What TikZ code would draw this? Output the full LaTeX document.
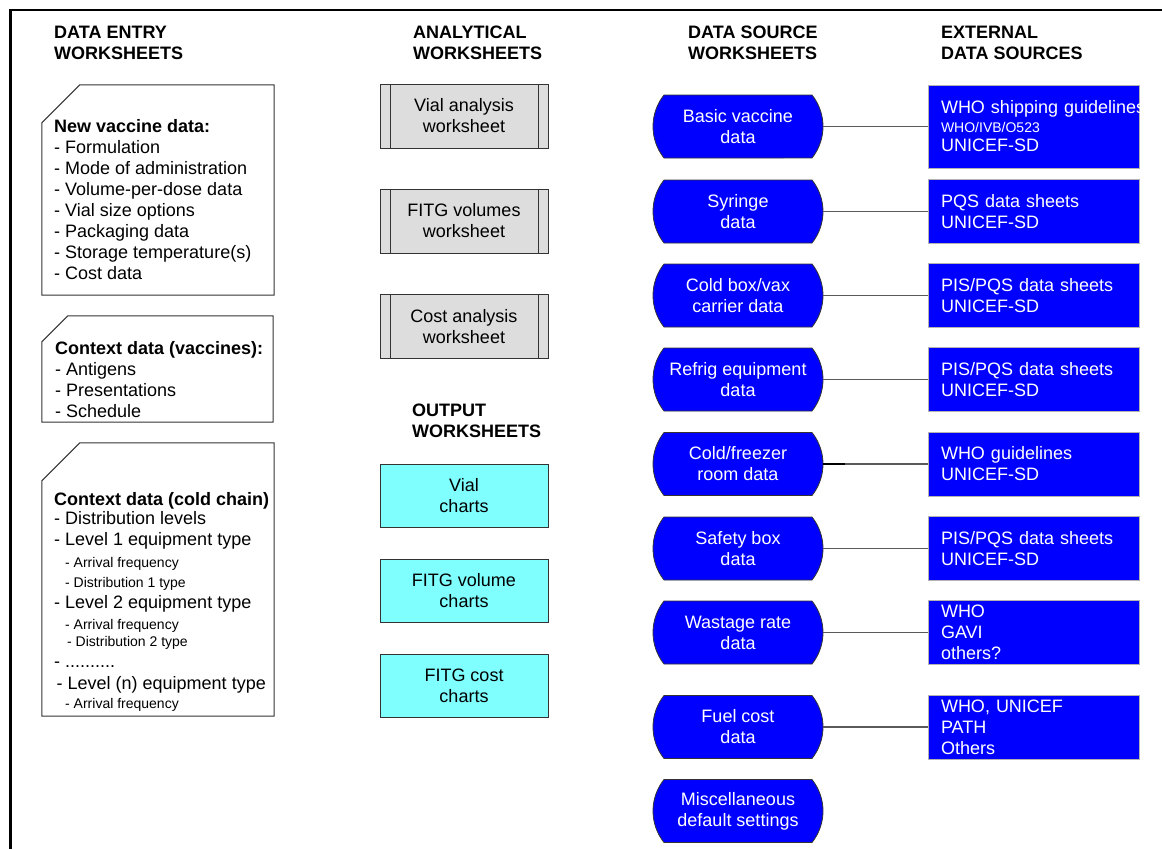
\documentclass[tikz,border=0pt]{standalone}
\usepackage{fontspec}
\setmainfont{Liberation Sans}
\usetikzlibrary{calc}

\definecolor{srcblue}{RGB}{0,0,255}
\definecolor{outcyan}{RGB}{128,255,255}
\definecolor{procgray}{RGB}{221,221,221}
\definecolor{edge}{RGB}{51,51,51}
\definecolor{linkgray}{RGB}{90,90,90}
\newcommand{\bigtxt}{\fontsize{18}{21}\selectfont}
\newcommand{\smalltxt}{\fontsize{14}{21}\selectfont}
\pgfdeclarelayer{background}
\pgfsetlayers{background,main}

\begin{document}
\begin{tikzpicture}[x=1pt,y=-1pt,font=\bigtxt,
  heading/.style={anchor=north west,inner sep=0,font=\bigtxt\bfseries,align=left},
  cardbox/.style={minimum width=232,minimum height=210,inner sep=0},
  cardline/.style={draw=edge,line width=1},
  cardtext/.style={anchor=north west,inner sep=0,align=left},
  proc/.style={draw=edge,line width=1,fill=procgray,minimum width=168,minimum height=64,
    inner sep=0,align=center,
    path picture={\draw[edge,line width=1]
      ([xshift=10]path picture bounding box.north west) -- ([xshift=10]path picture bounding box.south west)
      ([xshift=-10]path picture bounding box.north east) -- ([xshift=-10]path picture bounding box.south east);}},
  outbox/.style={draw=edge,line width=1,fill=outcyan,minimum width=168,minimum height=63,
    inner sep=0,align=center},
  store/.style={minimum width=170,minimum height=64,inner sep=0,align=center,text=white},
  storeshape/.style={fill=srcblue,draw=edge,line width=0.8},
  ext/.style={draw=gray!60,line width=0.8,fill=srcblue,text=white,minimum width=211,
    minimum height=64,inner xsep=13,inner ysep=0,text width=185,align=left},
  link/.style={draw=linkgray,line width=1.3}
]
\useasboundingbox (0,0) rectangle (1162,849);
\begin{pgfonlayer}{background}
  \fill[white] (0,0) rectangle (1162,849);
\end{pgfonlayer}

% page frame (left and top edges)
\draw[line width=2.5,line join=miter] (10.5,849) -- (10.5,10) -- (1162,10);

% column headings
\node[heading] (h1) at (54,26)  {DATA ENTRY\\WORKSHEETS};
\node[heading] (h2) at (413,26) {ANALYTICAL\\WORKSHEETS};
\node[heading] (h3) at (688,26) {DATA SOURCE\\WORKSHEETS};
\node[heading] (h4) at (941,26) {EXTERNAL\\DATA SOURCES};
\node[heading] (h5) at (412,404) {OUTPUT\\WORKSHEETS};

% data entry cards
\node[cardbox] (c1) at (158,190) {};
\draw[cardline] ([yshift=-38]c1.north west) -- ([xshift=38]c1.north west) -- (c1.north east)
  -- (c1.south east) -- (c1.south west) -- cycle;
\node[cardtext] (t1) at (54,119) {\textbf{New vaccine data:}\\
  - Formulation\\
  - Mode of administration\\
  - Volume-per-dose data\\
  - Vial size options\\
  - Packaging data\\
  - Storage temperature(s)\\
  - Cost data};

\node[cardbox,minimum width=231,minimum height=106] (c2) at (157.5,369) {};
\draw[cardline] ([yshift=-26]c2.north west) -- ([xshift=26]c2.north west) -- (c2.north east)
  -- (c2.south east) -- (c2.south west) -- cycle;
\node[cardtext] (t2) at (55,341) {\textbf{Context data (vaccines):}\\
  - Antigens\\
  - Presentations\\
  - Schedule};

\node[cardbox,minimum height=273] (c3) at (158,579.5) {};
\draw[cardline] ([yshift=-38]c3.north west) -- ([xshift=38]c3.north west) -- (c3.north east)
  -- (c3.south east) -- (c3.south west) -- cycle;
\node[cardtext] (t3) at (54,492) {\textbf{Context data (cold chain)}\\[-2pt]
  - Distribution levels\\
  - Level 1 equipment type\\[1pt]
  \hspace*{11pt}{\smalltxt - Arrival frequency}\\[-1pt]
  \hspace*{11pt}{\smalltxt - Distribution 1 type}\\
  - Level 2 equipment type\\
  \hspace*{11pt}{\smalltxt - Arrival frequency}\\[-4pt]
  \hspace*{13pt}{\smalltxt - Distribution 2 type}\\
  - ..........\\[1pt]
  \hspace*{2.5pt}- Level (n) equipment type\\[-2pt]
  \hspace*{11pt}{\smalltxt - Arrival frequency}};

% analytical worksheets
\node[proc] (an1) at (464,116)   {Vial analysis\\worksheet};
\node[proc] (an2) at (464,221)   {FITG volumes\\worksheet};
\node[proc] (an3) at (464,326.5) {Cost analysis\\worksheet};

% output worksheets
\node[outbox] (out1) at (464,495.5) {Vial\\charts};
\node[outbox] (out2) at (464,590.5) {FITG volume\\charts};
\node[outbox] (out3) at (464,685.5) {FITG cost\\charts};

% data source worksheets
\node[store] (ds1) at (738,126.5) {Basic vaccine\\data};
\node[store] (ds2) at (738,211.5) {Syringe\\data};
\node[store] (ds3) at (738,295.5) {Cold box/vax\\carrier data};
\node[store] (ds4) at (738,379.5) {Refrig equipment\\data};
\node[store] (ds5) at (738,464)   {Cold/freezer\\room data};
\node[store] (ds6) at (738,548.5) {Safety box\\data};
\node[store] (ds7) at (738,632.5) {Wastage rate\\data};
\node[store] (ds8) at (738,727)   {Fuel cost\\data};
\node[store] (ds9) at (738,811)   {Miscellaneous\\default settings};

% blue shapes with circular-arc sides behind the data source labels
\begin{pgfonlayer}{background}
  \foreach \i in {1,...,9} {
    \begin{scope}[shift={(ds\i.center)}]
      \filldraw[storeshape]
        (-74,-31.5) -- (74,-31.5)
        arc[start angle=-38.5,end angle=38.5,radius=50.6]
        -- (-74,31.5)
        arc[start angle=141.5,end angle=218.5,radius=50.6]
        -- cycle;
    \end{scope}
  }
\end{pgfonlayer}

% external data sources
\node[ext,minimum height=83] (ex1) at (1033.5,126.5)
  {\makebox[185pt][l]{WHO shipping guidelines}\\[-2pt]{\smalltxt WHO/IVB/O523}\\[-2pt]UNICEF-SD};
\node[ext] (ex2) at (1033.5,211.5) {PQS data sheets\\UNICEF-SD};
\node[ext] (ex3) at (1033.5,295.5) {PIS/PQS data sheets\\UNICEF-SD};
\node[ext] (ex4) at (1033.5,379.5) {PIS/PQS data sheets\\UNICEF-SD};
\node[ext] (ex5) at (1033.5,464)   {WHO guidelines\\UNICEF-SD};
\node[ext] (ex6) at (1033.5,548.5) {PIS/PQS data sheets\\UNICEF-SD};
\node[ext] (ex7) at (1033.5,632.5) {WHO\\GAVI\\others?};
\node[ext] (ex8) at (1033.5,727)   {WHO, UNICEF\\PATH\\Others};

% links between data sources and external sources
\foreach \i in {1,...,8} {
  \draw[link] (ds\i.east) -- (ex\i.west);
}
\coordinate (k5) at ($(ds5.east)+(22,0)$);
\draw[line width=2] (ds5.east) -- (k5);
\end{tikzpicture}
\end{document}
